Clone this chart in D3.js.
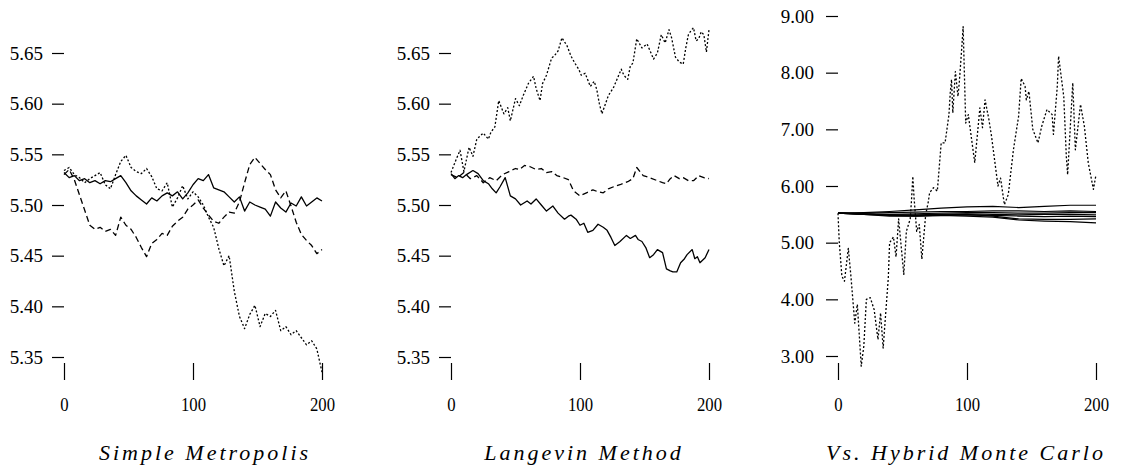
<!DOCTYPE html>
<html><head><meta charset="utf-8">
<script src="https://cdn.jsdelivr.net/npm/d3@7"></script>
<style>body{margin:0;background:#fff}svg{display:block}</style>
</head><body>
<svg id="c" width="1134" height="472"></svg>
<script>
// ---------- DATA ----------
const xTicks = [0, 100, 200];
const yTicksSmall = [5.35, 5.40, 5.45, 5.50, 5.55, 5.60, 5.65];
const yTicksHMC = [3, 4, 5, 6, 7, 8, 9];
const titles = ["Simple Metropolis", "Langevin Method", "Vs. Hybrid Monte Carlo"];

// Panel 1 (t = 0,4,...,200)
const p1Step = 4;
const p1Solid = [5.532,5.527,5.529,5.524,5.526,5.522,5.524,5.521,5.524,5.523,5.526,5.529,5.522,5.514,5.509,5.505,5.501,5.507,5.504,5.509,5.512,5.509,5.513,5.506,5.512,5.520,5.526,5.524,5.530,5.517,5.515,5.513,5.508,5.503,5.508,5.494,5.503,5.500,5.498,5.496,5.489,5.503,5.497,5.493,5.502,5.499,5.508,5.499,5.503,5.507,5.504];
const p1Dotted = [5.534,5.537,5.530,5.527,5.522,5.526,5.529,5.532,5.520,5.516,5.530,5.543,5.549,5.537,5.533,5.531,5.536,5.528,5.516,5.514,5.522,5.498,5.507,5.519,5.506,5.513,5.508,5.500,5.488,5.478,5.457,5.440,5.450,5.415,5.390,5.378,5.392,5.401,5.380,5.393,5.390,5.396,5.376,5.380,5.372,5.376,5.369,5.362,5.366,5.358,5.335];
const p1Dashed = [5.530,5.535,5.525,5.510,5.495,5.480,5.476,5.478,5.474,5.476,5.470,5.488,5.480,5.476,5.468,5.458,5.449,5.462,5.466,5.472,5.470,5.479,5.484,5.488,5.496,5.500,5.505,5.497,5.490,5.484,5.482,5.488,5.493,5.492,5.503,5.522,5.540,5.547,5.541,5.535,5.530,5.515,5.507,5.514,5.499,5.483,5.471,5.465,5.460,5.452,5.456];

// Panel 2
const p2SolidT = [0,3,6,9,12,17,21,25,29,32,35,38,42,46,50,54,59,62,66,70,74,77,79,83,88,91,93,97,100,103,106,110,114,118,121,124,127,131,136,139,143,145,148,151,154,157,160,164,167,170,172,175,178,181,183,187,189,191,193,197,200];
const p2SolidV = [5.531,5.526,5.529,5.527,5.530,5.534,5.531,5.524,5.521,5.516,5.512,5.518,5.527,5.509,5.506,5.500,5.504,5.501,5.506,5.500,5.494,5.497,5.499,5.492,5.486,5.489,5.490,5.486,5.480,5.482,5.473,5.475,5.481,5.478,5.475,5.468,5.460,5.464,5.470,5.467,5.470,5.466,5.464,5.458,5.448,5.451,5.456,5.453,5.437,5.435,5.434,5.434,5.443,5.447,5.451,5.456,5.447,5.449,5.443,5.448,5.456];
const p2DashedT = [0,5,10,15,20,25,30,35,40,45,50,53,57,61,66,70,74,78,82,87,91,95,100,105,110,114,118,122,126,131,137,141,144,149,154,160,164,167,170,173,177,180,184,188,192,196,200];
const p2DashedV = [5.530,5.527,5.532,5.526,5.529,5.522,5.527,5.524,5.530,5.533,5.536,5.535,5.539,5.538,5.535,5.536,5.532,5.533,5.529,5.527,5.525,5.514,5.509,5.512,5.515,5.513,5.512,5.516,5.518,5.520,5.523,5.526,5.537,5.529,5.527,5.524,5.522,5.521,5.526,5.529,5.526,5.527,5.524,5.524,5.529,5.527,5.526];
const p2DottedT = [0,4,7,10,14,17,20,25,29,31,34,37,41,44,46,50,53,56,60,64,66,69,71,74,78,80,83,86,90,93,96,99,101,104,108,111,113,115,117,122,126,129,132,134,137,139,141,144,148,152,157,160,163,166,169,171,174,177,180,182,184,186,188,190,192,194,196,198,200];
const p2DottedV = [5.532,5.545,5.554,5.533,5.557,5.548,5.565,5.571,5.565,5.572,5.577,5.603,5.590,5.596,5.583,5.605,5.598,5.608,5.620,5.627,5.615,5.603,5.620,5.628,5.645,5.647,5.652,5.665,5.657,5.647,5.640,5.634,5.628,5.630,5.617,5.622,5.614,5.600,5.590,5.608,5.616,5.625,5.634,5.628,5.624,5.637,5.640,5.664,5.655,5.659,5.644,5.650,5.668,5.660,5.673,5.665,5.646,5.641,5.639,5.655,5.668,5.672,5.675,5.662,5.664,5.671,5.668,5.651,5.673];

// Panel 3: solid runs (t = 0,20,...,200) and the hybrid Monte Carlo dotted run
const p3Step = 20;
const p3Solid1 = [5.52,5.53,5.55,5.58,5.61,5.63,5.64,5.62,5.64,5.66,5.66];
const p3Solid2 = [5.52,5.52,5.53,5.54,5.55,5.55,5.56,5.56,5.55,5.56,5.55];
const p3Solid3 = [5.52,5.51,5.50,5.51,5.52,5.53,5.53,5.52,5.52,5.53,5.53];
const p3Solid4 = [5.52,5.50,5.49,5.49,5.50,5.51,5.50,5.49,5.50,5.50,5.49];
const p3Solid5 = [5.52,5.51,5.48,5.47,5.48,5.49,5.48,5.47,5.46,5.47,5.46];
const p3Solid6 = [5.52,5.50,5.49,5.48,5.49,5.50,5.47,5.42,5.41,5.41,5.42];
const p3Solid7 = [5.52,5.50,5.47,5.47,5.48,5.47,5.45,5.40,5.38,5.37,5.35];
const p3DottedT = [0,1,3,5,8,10,13,15,18,20,22,25,28,31,33,35,39,40,43,45,47,51,53,56,57,58,59,61,63,65,68,70,71,74,77,80,83,86,87,88,89,91,93,94,96,97,99,101,106,110,112,114,117,119,124,126,129,132,136,140,142,145,146,148,151,155,158,162,166,167,170,171,175,177,178,182,184,188,191,194,198,200];
const p3DottedV = [5.52,5.0,4.41,4.32,4.9,4.41,3.58,3.91,2.82,3.17,4.0,4.03,3.82,3.29,3.76,3.14,4.38,5.0,5.1,4.75,5.42,4.44,5.2,5.42,5.76,6.17,5.78,5.2,5.32,4.71,5.5,5.72,5.88,5.97,5.91,6.76,6.76,7.26,7.64,7.88,7.29,8.02,7.58,7.82,8.46,8.81,7.11,7.26,6.41,7.38,7.03,7.52,7.17,6.88,6.0,6.14,5.67,5.85,6.64,7.23,7.9,7.76,7.52,7.67,7.0,6.76,7.06,7.35,7.26,6.91,7.76,8.29,7.58,6.52,6.2,7.82,6.64,7.44,7.05,6.41,5.94,6.2];

// ---------- DRAW ----------
const svg = d3.select("#c");
const FONT = '"Liberation Serif"';
const SOLID = null, DASHED = "6,3.5", DOTTED = "2,2";

function regular(vals, step){ return vals.map((v,i)=>({t:i*step, v})); }
function paired(ts, vs){ return ts.map((t,i)=>({t, v:vs[i]})); }

function panel(cfg){
  const x = d3.scaleLinear().domain([0,200]).range([cfg.x0, cfg.x0+258]);
  const y = d3.scaleLinear().domain(cfg.yDomain).range(cfg.yRange);
  const g = svg.append("g");

  const ya = d3.axisLeft(y).tickValues(cfg.yTicks).tickSize(12).tickPadding(cfg.pad)
    .tickFormat(d3.format(".2f"));
  const gy = g.append("g").attr("transform",`translate(${cfg.x0},0)`).call(ya);
  gy.attr("font-family",null);
  gy.select(".domain").remove();
  gy.selectAll("line").attr("stroke","#000").attr("stroke-width",1.2);
  gy.selectAll("text").style("font-family",FONT).attr("font-size",19).attr("fill","#000");

  const xa = d3.axisBottom(x).tickValues(xTicks).tickSize(17).tickFormat(d3.format("d"));
  const gx = g.append("g").attr("transform","translate(0,363)").call(xa);
  gx.attr("font-family",null);
  gx.select(".domain").remove();
  gx.selectAll("line").attr("stroke","#000").attr("stroke-width",1.2);
  gx.selectAll("text").style("font-family",FONT).attr("font-size",19).attr("fill","#000")
    .attr("y",0).attr("dy",0)
    .attr("transform","translate(0,48) scale(0.88,1)");

  const line = d3.line().x(d=>x(d.t)).y(d=>y(d.v));
  cfg.series.forEach(s=>{
    g.append("path").datum(s.data).attr("d",line)
      .attr("fill","none").attr("stroke","#000").attr("stroke-width",s.w||1.3)
      .attr("stroke-dasharray",s.dash).attr("stroke-linejoin","round");
  });

  g.append("text").attr("x",cfg.tx).attr("y",460).attr("text-anchor","middle")
    .style("font-family",FONT).attr("font-style","italic").attr("font-size",22)
    .attr("letter-spacing","3px").attr("fill","#000").text(cfg.title);
}

panel({x0:64, yDomain:[5.35,5.65], yRange:[357,53], yTicks:yTicksSmall, pad:9, tx:205, title:titles[0],
  series:[
    {data:regular(p1Dashed,p1Step), dash:DASHED},
    {data:regular(p1Dotted,p1Step), dash:DOTTED},
    {data:regular(p1Solid,p1Step), dash:SOLID}
  ]});

panel({x0:451, yDomain:[5.35,5.65], yRange:[357,53], yTicks:yTicksSmall, pad:9, tx:584, title:titles[1],
  series:[
    {data:paired(p2DashedT,p2DashedV), dash:DASHED},
    {data:paired(p2DottedT,p2DottedV), dash:DOTTED},
    {data:paired(p2SolidT,p2SolidV), dash:SOLID}
  ]});

panel({x0:838, yDomain:[3,9], yRange:[356,16], yTicks:yTicksHMC, pad:12, tx:966, title:titles[2],
  series:[
    {data:paired(p3DottedT,p3DottedV), dash:DOTTED},
    ...[p3Solid1,p3Solid2,p3Solid3,p3Solid4,p3Solid5,p3Solid6,p3Solid7].map(a=>({data:regular(a,p3Step), dash:SOLID, w:1.2}))
  ]});
</script>
</body></html>
